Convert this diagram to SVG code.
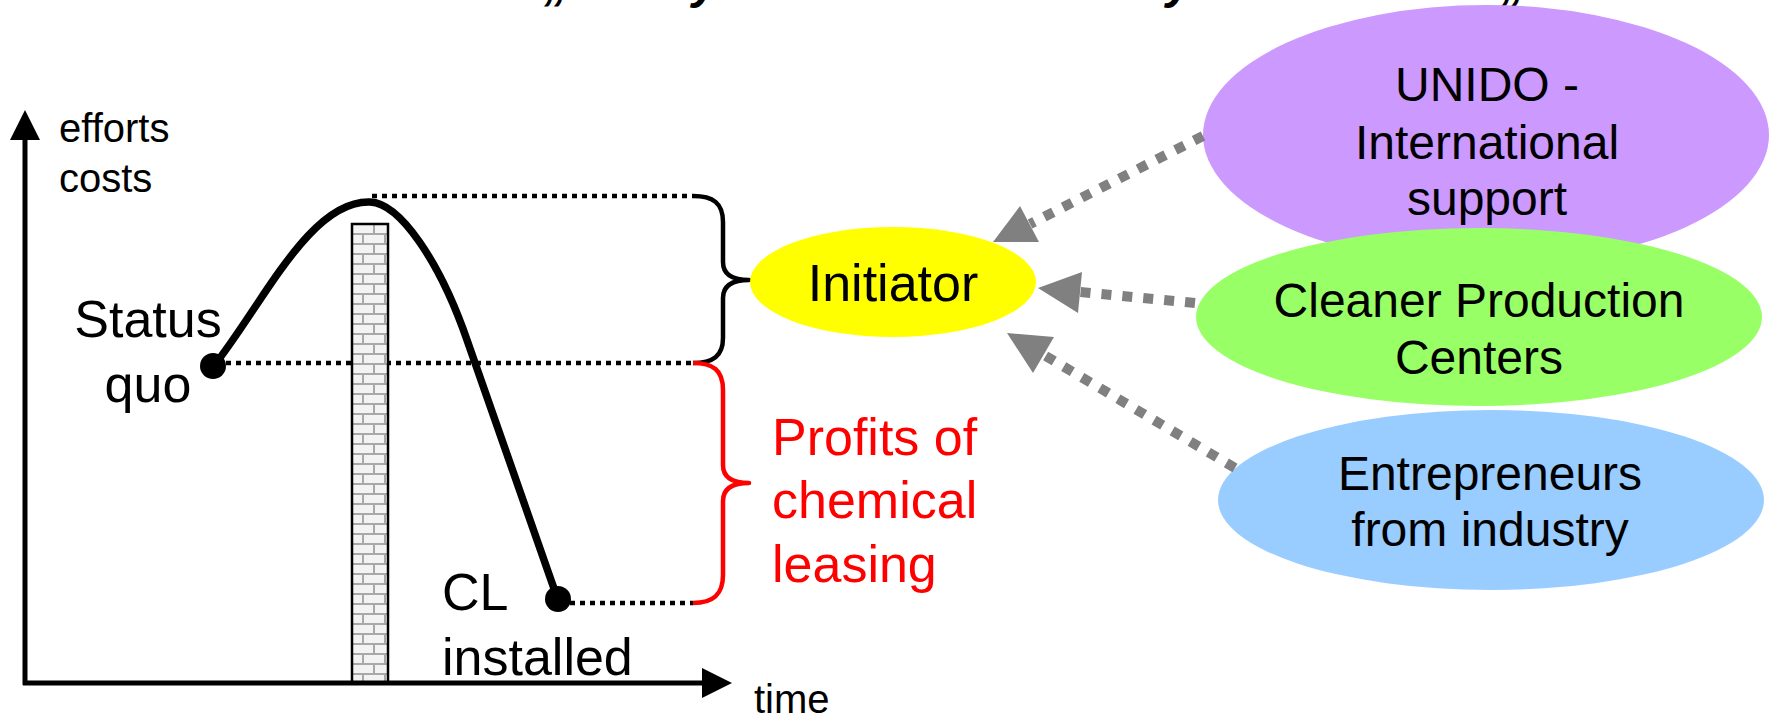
<svg xmlns="http://www.w3.org/2000/svg" width="1777" height="720" viewBox="0 0 1777 720">
<style>
text{font-family:"Liberation Sans",Arial,sans-serif;fill:#000}
.ax{stroke:#000;stroke-width:5;fill:none}
.dot{stroke:#000;stroke-width:4.5;stroke-dasharray:5 5;fill:none}
.brace{stroke-width:4.5;fill:none;stroke-linejoin:round}
.conn{stroke:#808080;stroke-width:10;stroke-dasharray:10 11;fill:none}
.head{fill:#808080}
.t40{font-size:40px}
.t52{font-size:52px}
.t48{font-size:48px}
.frag{font-size:48px;font-weight:bold;font-style:italic}
</style>
<defs>
<pattern id="brick" patternUnits="userSpaceOnUse" x="352" y="224" width="22" height="20">
<rect width="22" height="20" fill="#a9a9a9"/>
<rect x="1" y="1" width="20" height="8" fill="#f3f3f3"/>
<rect x="-10" y="11" width="20" height="8" fill="#f3f3f3"/>
<rect x="12" y="11" width="20" height="8" fill="#f3f3f3"/>
</pattern>
</defs>
<rect width="1777" height="720" fill="#fff"/>
<g id="title-fragment">
<text class="frag" x="544" y="-1">„</text>
<text class="frag" x="692" y="-2">y</text>
<text class="frag" x="1166" y="-2">y</text>
<text class="frag" x="1501" y="-1">„</text>
</g>
<g id="chart">
<line class="dot" x1="216" y1="363" x2="693" y2="363"/>
<line class="dot" x1="372" y1="196" x2="693" y2="196"/>
<line class="dot" x1="560" y1="603" x2="693" y2="603"/>
<rect x="352" y="224" width="36" height="459" fill="url(#brick)" stroke="#000" stroke-width="2.5"/>
<line class="ax" x1="25" y1="136" x2="25" y2="685"/>
<line class="ax" x1="23" y1="683" x2="704" y2="683"/>
<polygon points="25,110 10,140 40,140" fill="#000"/>
<polygon points="732,683 702,668 702,698" fill="#000"/>
<path d="M213,367 C263,304 310,200 370,202 C400,203 440,262 467,340 L558,600" stroke="#000" stroke-width="7.5" fill="none"/>
<circle cx="213" cy="366" r="13" fill="#000"/>
<circle cx="558" cy="599" r="13" fill="#000"/>
<path class="brace" stroke="#000" d="M693,196 C713,196 723,203 723,222 L723,262 C723,274 732,280 749,280 C732,280 723,286 723,298 L723,338 C723,356 713,363 693,363"/>
<path class="brace" stroke="#ff0000" d="M693,363 C713,363 723,370 723,390 L723,465 C723,477 732,483 749,483 C732,483 723,489 723,501 L723,575 C723,595 713,603 693,603"/>
<text class="t40" x="59" y="142">efforts</text>
<text class="t40" x="59" y="192">costs</text>
<text class="t40" x="754" y="713">time</text>
<text class="t52" x="148" y="337" text-anchor="middle">Status</text>
<text class="t52" x="148" y="402" text-anchor="middle">quo</text>
<text class="t52" x="442" y="610">CL</text>
<text class="t52" x="442" y="675">installed</text>
<text class="t52" x="772" y="455" style="fill:#ff0000">Profits of</text>
<text class="t52" x="772" y="518" style="fill:#ff0000">chemical</text>
<text class="t52" x="772" y="582" style="fill:#ff0000">leasing</text>
</g>
<g id="unido">
<ellipse cx="1486" cy="135" rx="283" ry="130" fill="#cc99ff"/>
<text class="t48" x="1487" y="101" text-anchor="middle">UNIDO -</text>
<text class="t48" x="1487" y="159" text-anchor="middle">International</text>
<text class="t48" x="1487" y="215" text-anchor="middle">support</text>
</g>
<g id="cpc">
<ellipse cx="1479" cy="317" rx="283" ry="89" fill="#99ff66"/>
<text class="t48" x="1479" y="317" text-anchor="middle">Cleaner Production</text>
<text class="t48" x="1479" y="374" text-anchor="middle">Centers</text>
</g>
<g id="entrepreneurs">
<ellipse cx="1491" cy="500" rx="273" ry="90" fill="#99ccff"/>
<text class="t48" x="1490" y="490" text-anchor="middle">Entrepreneurs</text>
<text class="t48" x="1490" y="546" text-anchor="middle">from industry</text>
</g>
<g id="initiator">
<ellipse cx="893" cy="282" rx="143" ry="55" fill="#ffff00"/>
<text class="t52" x="893" y="301" text-anchor="middle">Initiator</text>
</g>
<g id="connectors">
<line class="conn" x1="1203" y1="136" x2="1030" y2="224"/>
<polygon class="head" points="993,242 1020,206 1039,242"/>
<line class="conn" x1="1195" y1="303" x2="1080" y2="292"/>
<polygon class="head" points="1038,288 1082,272 1078,313"/>
<line class="conn" x1="1235" y1="468" x2="1044" y2="355"/>
<polygon class="head" points="1007,333 1054,337 1033,373"/>
</g>
</svg>
